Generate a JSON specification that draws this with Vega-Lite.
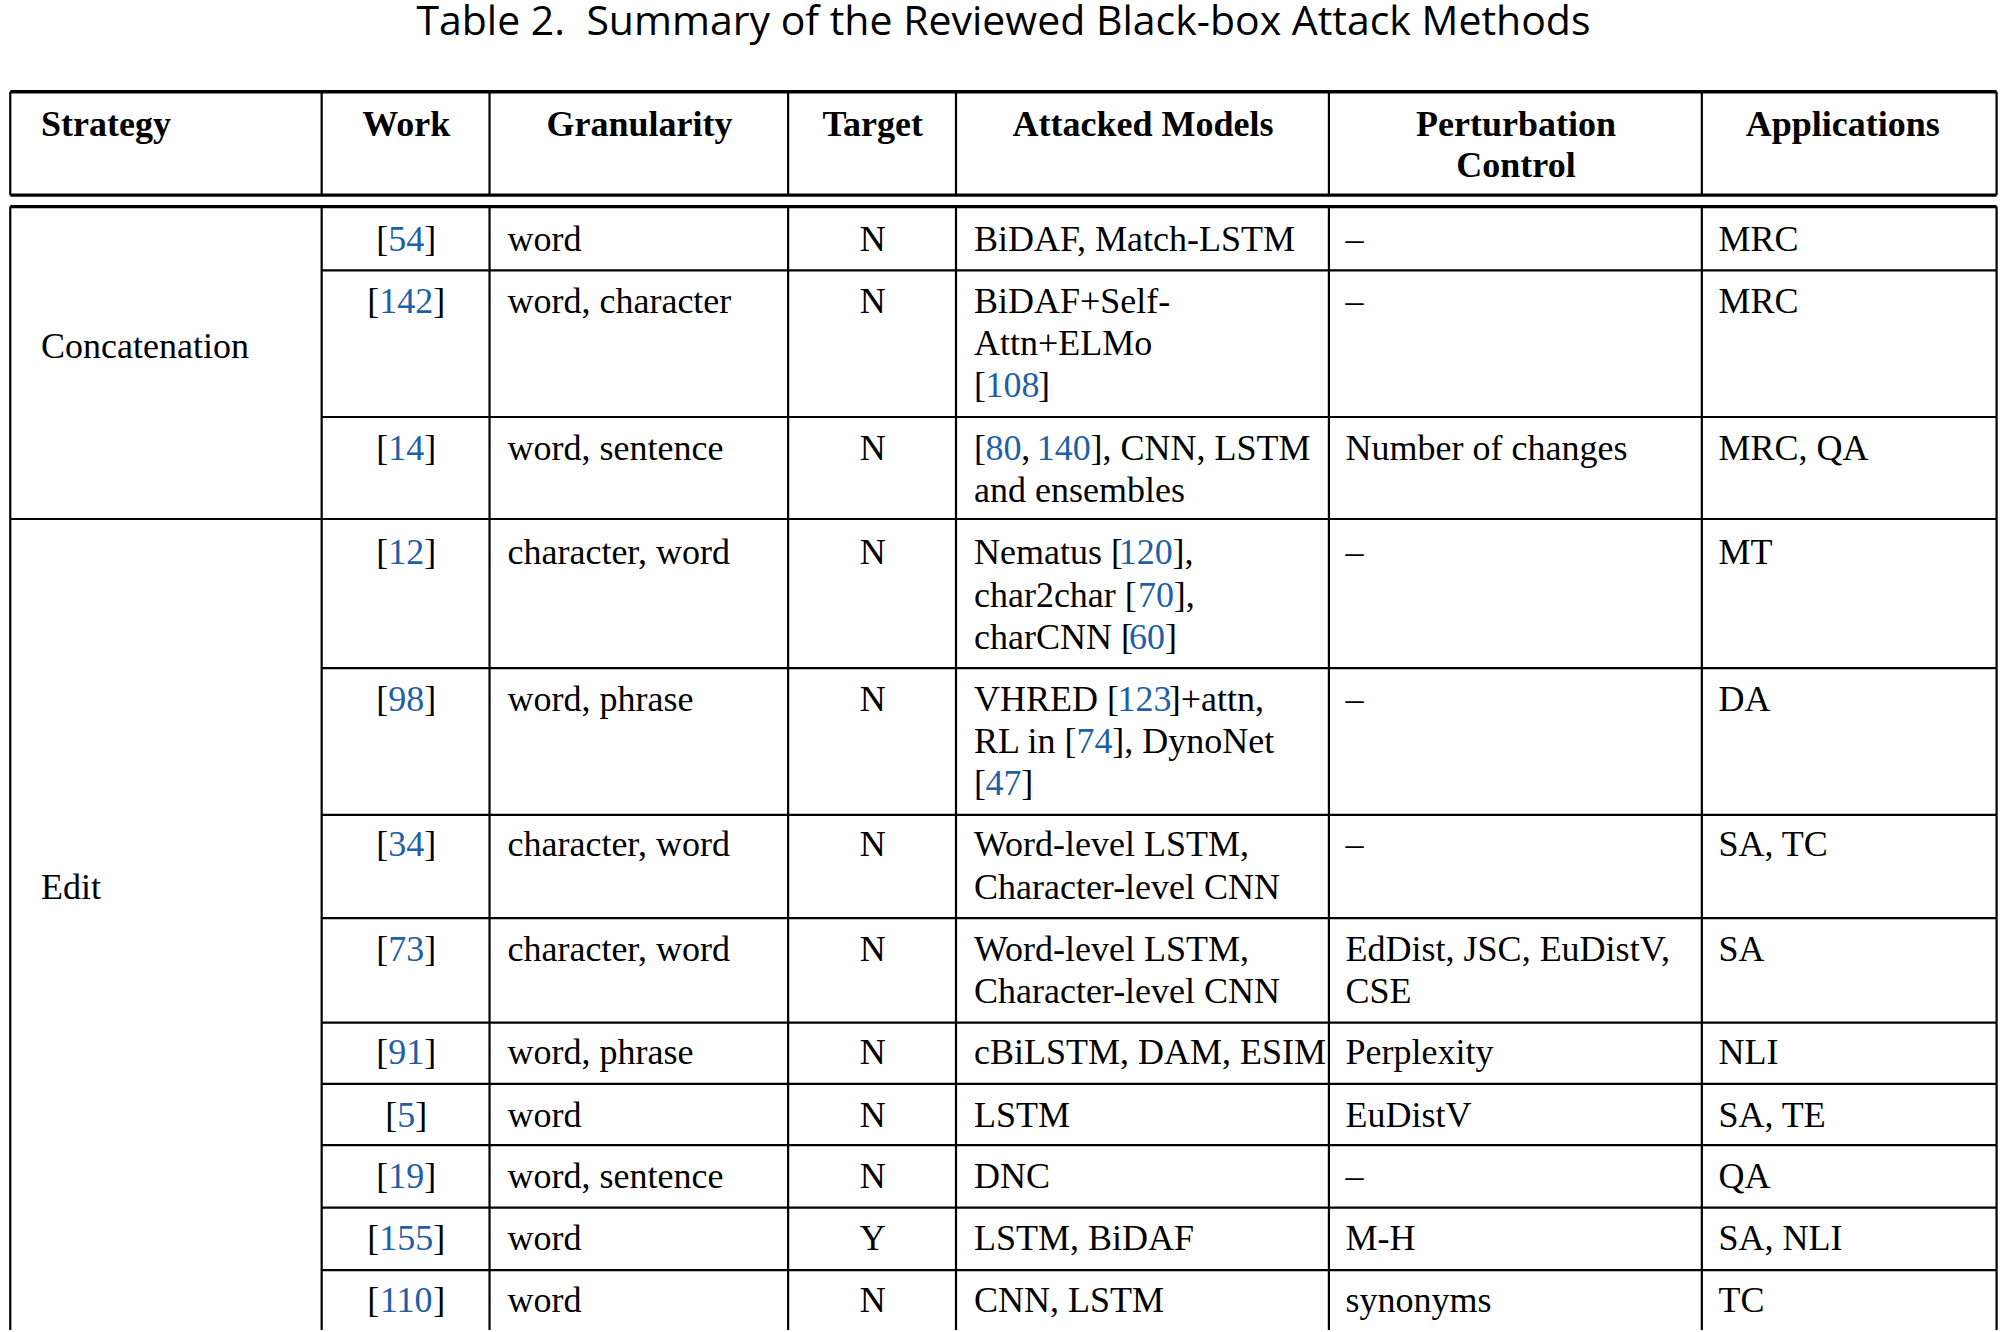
{
"$schema":"https://vega.github.io/schema/vega-lite/v6.json",
"width":2003,"height":1332,"autosize":{"type":"fit","contains":"padding"},"padding":0,
"background":"white","config":{"view":{"stroke":null}},
"datasets":{
"rules":[
{"x":8,"x2":1558,"y":72,"y2":72,"k":"thick"},
{"x":8,"x2":1558,"y":153,"y2":153,"k":"thick"},
{"x":8,"x2":1558,"y":162,"y2":162,"k":"thick"},
{"x":251,"x2":1558,"y":212,"y2":212,"k":"thin"},
{"x":251,"x2":1558,"y":327,"y2":327,"k":"thin"},
{"x":8,"x2":1558,"y":407,"y2":407,"k":"thin"},
{"x":251,"x2":1558,"y":524,"y2":524,"k":"thin"},
{"x":251,"x2":1558,"y":639,"y2":639,"k":"thin"},
{"x":251,"x2":1558,"y":720,"y2":720,"k":"thin"},
{"x":251,"x2":1558,"y":802,"y2":802,"k":"thin"},
{"x":251,"x2":1558,"y":850,"y2":850,"k":"thin"},
{"x":251,"x2":1558,"y":898,"y2":898,"k":"thin"},
{"x":251,"x2":1558,"y":947,"y2":947,"k":"thin"},
{"x":251,"x2":1558,"y":996,"y2":996,"k":"thin"},
{"x":8,"x2":8,"y":72,"y2":153,"k":"thin"},{"x":8,"x2":8,"y":162,"y2":1043,"k":"thin"},
{"x":251,"x2":251,"y":72,"y2":153,"k":"thin"},{"x":251,"x2":251,"y":162,"y2":1043,"k":"thin"},
{"x":382,"x2":382,"y":72,"y2":153,"k":"thin"},{"x":382,"x2":382,"y":162,"y2":1043,"k":"thin"},
{"x":615,"x2":615,"y":72,"y2":153,"k":"thin"},{"x":615,"x2":615,"y":162,"y2":1043,"k":"thin"},
{"x":746,"x2":746,"y":72,"y2":153,"k":"thin"},{"x":746,"x2":746,"y":162,"y2":1043,"k":"thin"},
{"x":1037,"x2":1037,"y":72,"y2":153,"k":"thin"},{"x":1037,"x2":1037,"y":162,"y2":1043,"k":"thin"},
{"x":1328,"x2":1328,"y":72,"y2":153,"k":"thin"},{"x":1328,"x2":1328,"y":162,"y2":1043,"k":"thin"},
{"x":1558,"x2":1558,"y":72,"y2":153,"k":"thin"},{"x":1558,"x2":1558,"y":162,"y2":1043,"k":"thin"}
],
"cells":[
{"x":783,"y":18,"t":"Table 2.\u00a0 Summary of the Reviewed Black-box Attack Methods","k":"T"},
{"x":32,"y":98,"t":"Strategy","k":"HL"},
{"x":317,"y":98,"t":"Work","k":"H"},
{"x":499,"y":98,"t":"Granularity","k":"H"},
{"x":681,"y":98,"t":"Target","k":"H"},
{"x":892,"y":98,"t":"Attacked Models","k":"H"},
{"x":1183,"y":98,"t":"Perturbation","k":"H"},
{"x":1183,"y":130,"t":"Control","k":"H"},
{"x":1438,"y":98,"t":"Applications","k":"H"},
{"x":32,"y":272,"t":"Concatenation","k":"L"},
{"x":32,"y":696,"t":"Edit","k":"L"},

{"x":317,"y":188,"t":"[\u2007\u2007]","k":"C"},{"x":317,"y":188,"t":"54","k":"BC"},
{"x":396,"y":188,"t":"word","k":"L"},{"x":681,"y":188,"t":"N","k":"C"},
{"x":760,"y":188,"t":"BiDAF, Match-LSTM","k":"L"},{"x":1050,"y":188,"t":"–","k":"L"},{"x":1341,"y":188,"t":"MRC","k":"L"},

{"x":317,"y":237,"t":"[\u2007\u2007\u2007]","k":"C"},{"x":317,"y":237,"t":"142","k":"BC"},
{"x":396,"y":237,"t":"word, character","k":"L"},{"x":681,"y":237,"t":"N","k":"C"},
{"x":760,"y":237,"t":"BiDAF+Self-","k":"L"},{"x":760,"y":270,"t":"Attn+ELMo","k":"L"},
{"x":760,"y":303,"t":"[","k":"L"},{"x":769,"y":303,"t":"108","k":"BL"},{"x":810,"y":303,"t":"]","k":"L"},
{"x":1050,"y":237,"t":"–","k":"L"},{"x":1341,"y":237,"t":"MRC","k":"L"},

{"x":317,"y":352,"t":"[\u2007\u2007]","k":"C"},{"x":317,"y":352,"t":"14","k":"BC"},
{"x":396,"y":352,"t":"word, sentence","k":"L"},{"x":681,"y":352,"t":"N","k":"C"},
{"x":760,"y":352,"t":"[","k":"L"},{"x":769,"y":352,"t":"80","k":"BL"},{"x":797,"y":352,"t":",","k":"L"},{"x":809,"y":352,"t":"140","k":"BL"},{"x":851,"y":352,"t":"], CNN, LSTM","k":"L"},
{"x":760,"y":385,"t":"and ensembles","k":"L"},
{"x":1050,"y":352,"t":"Number of changes","k":"L"},{"x":1341,"y":352,"t":"MRC, QA","k":"L"},

{"x":317,"y":434,"t":"[\u2007\u2007]","k":"C"},{"x":317,"y":434,"t":"12","k":"BC"},
{"x":396,"y":434,"t":"character, word","k":"L"},{"x":681,"y":434,"t":"N","k":"C"},
{"x":760,"y":434,"t":"Nematus [","k":"L"},{"x":873,"y":434,"t":"120","k":"BL"},{"x":915,"y":434,"t":"],","k":"L"},
{"x":760,"y":467,"t":"char2char [","k":"L"},{"x":888,"y":467,"t":"70","k":"BL"},{"x":916,"y":467,"t":"],","k":"L"},
{"x":760,"y":500,"t":"charCNN [","k":"L"},{"x":881,"y":500,"t":"60","k":"BL"},{"x":909,"y":500,"t":"]","k":"L"},
{"x":1050,"y":434,"t":"–","k":"L"},{"x":1341,"y":434,"t":"MT","k":"L"},

{"x":317,"y":549,"t":"[\u2007\u2007]","k":"C"},{"x":317,"y":549,"t":"98","k":"BC"},
{"x":396,"y":549,"t":"word, phrase","k":"L"},{"x":681,"y":549,"t":"N","k":"C"},
{"x":760,"y":549,"t":"VHRED [","k":"L"},{"x":872,"y":549,"t":"123","k":"BL"},{"x":912,"y":549,"t":"]+attn,","k":"L"},
{"x":760,"y":582,"t":"RL in [","k":"L"},{"x":840,"y":582,"t":"74","k":"BL"},{"x":868,"y":582,"t":"], DynoNet","k":"L"},
{"x":760,"y":615,"t":"[","k":"L"},{"x":769,"y":615,"t":"47","k":"BL"},{"x":797,"y":615,"t":"]","k":"L"},
{"x":1050,"y":549,"t":"–","k":"L"},{"x":1341,"y":549,"t":"DA","k":"L"},

{"x":317,"y":663,"t":"[\u2007\u2007]","k":"C"},{"x":317,"y":663,"t":"34","k":"BC"},
{"x":396,"y":663,"t":"character, word","k":"L"},{"x":681,"y":663,"t":"N","k":"C"},
{"x":760,"y":663,"t":"Word-level LSTM,","k":"L"},{"x":760,"y":696,"t":"Character-level CNN","k":"L"},
{"x":1050,"y":663,"t":"–","k":"L"},{"x":1341,"y":663,"t":"SA, TC","k":"L"},

{"x":317,"y":745,"t":"[\u2007\u2007]","k":"C"},{"x":317,"y":745,"t":"73","k":"BC"},
{"x":396,"y":745,"t":"character, word","k":"L"},{"x":681,"y":745,"t":"N","k":"C"},
{"x":760,"y":745,"t":"Word-level LSTM,","k":"L"},{"x":760,"y":778,"t":"Character-level CNN","k":"L"},
{"x":1050,"y":745,"t":"EdDist, JSC, EuDistV,","k":"L"},{"x":1050,"y":778,"t":"CSE","k":"L"},{"x":1341,"y":745,"t":"SA","k":"L"},

{"x":317,"y":826,"t":"[\u2007\u2007]","k":"C"},{"x":317,"y":826,"t":"91","k":"BC"},
{"x":396,"y":826,"t":"word, phrase","k":"L"},{"x":681,"y":826,"t":"N","k":"C"},
{"x":760,"y":826,"t":"cBiLSTM, DAM, ESIM","k":"L"},{"x":1050,"y":826,"t":"Perplexity","k":"L"},{"x":1341,"y":826,"t":"NLI","k":"L"},

{"x":317,"y":875,"t":"[\u2007]","k":"C"},{"x":317,"y":875,"t":"5","k":"BC"},
{"x":396,"y":875,"t":"word","k":"L"},{"x":681,"y":875,"t":"N","k":"C"},
{"x":760,"y":875,"t":"LSTM","k":"L"},{"x":1050,"y":875,"t":"EuDistV","k":"L"},{"x":1341,"y":875,"t":"SA, TE","k":"L"},

{"x":317,"y":923,"t":"[\u2007\u2007]","k":"C"},{"x":317,"y":923,"t":"19","k":"BC"},
{"x":396,"y":923,"t":"word, sentence","k":"L"},{"x":681,"y":923,"t":"N","k":"C"},
{"x":760,"y":923,"t":"DNC","k":"L"},{"x":1050,"y":923,"t":"–","k":"L"},{"x":1341,"y":923,"t":"QA","k":"L"},

{"x":317,"y":972,"t":"[\u2007\u2007\u2007]","k":"C"},{"x":317,"y":972,"t":"155","k":"BC"},
{"x":396,"y":972,"t":"word","k":"L"},{"x":681,"y":972,"t":"Y","k":"C"},
{"x":760,"y":972,"t":"LSTM, BiDAF","k":"L"},{"x":1050,"y":972,"t":"M-H","k":"L"},{"x":1341,"y":972,"t":"SA, NLI","k":"L"},

{"x":317,"y":1020,"t":"[\u2007\u2007\u2007]","k":"C"},{"x":317,"y":1020,"t":"110","k":"BC"},
{"x":396,"y":1020,"t":"word","k":"L"},{"x":681,"y":1020,"t":"N","k":"C"},
{"x":760,"y":1020,"t":"CNN, LSTM","k":"L"},{"x":1050,"y":1020,"t":"synonyms","k":"L"},{"x":1341,"y":1020,"t":"TC","k":"L"}
]},
"encoding":{
"x":{"field":"x","type":"quantitative","scale":{"domain":[0,1563],"nice":false,"zero":false},"axis":null},
"y":{"field":"y","type":"quantitative","scale":{"domain":[0,1043],"nice":false,"zero":false,"reverse":true},"axis":null}
},
"layer":[
{"data":{"name":"rules"},"transform":[{"filter":"datum.k=='thin'"}],"mark":{"type":"rule","color":"black","strokeWidth":2.2},"encoding":{"x2":{"field":"x2"},"y2":{"field":"y2"}}},
{"data":{"name":"rules"},"transform":[{"filter":"datum.k=='thick'"}],"mark":{"type":"rule","color":"black","strokeWidth":3.4},"encoding":{"x2":{"field":"x2"},"y2":{"field":"y2"}}},
{"data":{"name":"cells"},"transform":[{"filter":"datum.k=='L'"}],"mark":{"type":"text","align":"left","baseline":"middle","font":"Liberation Serif","fontSize":36,"color":"black"},"encoding":{"text":{"field":"t"}}},
{"data":{"name":"cells"},"transform":[{"filter":"datum.k=='C'"}],"mark":{"type":"text","align":"center","baseline":"middle","font":"Liberation Serif","fontSize":36,"color":"black"},"encoding":{"text":{"field":"t"}}},
{"data":{"name":"cells"},"transform":[{"filter":"datum.k=='BL'"}],"mark":{"type":"text","align":"left","baseline":"middle","font":"Liberation Serif","fontSize":36,"color":"#1f5fa6"},"encoding":{"text":{"field":"t"}}},
{"data":{"name":"cells"},"transform":[{"filter":"datum.k=='BC'"}],"mark":{"type":"text","align":"center","baseline":"middle","font":"Liberation Serif","fontSize":36,"color":"#1f5fa6"},"encoding":{"text":{"field":"t"}}},
{"data":{"name":"cells"},"transform":[{"filter":"datum.k=='H'"}],"mark":{"type":"text","align":"center","baseline":"middle","font":"Liberation Serif","fontSize":36,"fontWeight":"bold","color":"black"},"encoding":{"text":{"field":"t"}}},
{"data":{"name":"cells"},"transform":[{"filter":"datum.k=='HL'"}],"mark":{"type":"text","align":"left","baseline":"middle","font":"Liberation Serif","fontSize":36,"fontWeight":"bold","color":"black"},"encoding":{"text":{"field":"t"}}},
{"data":{"name":"cells"},"transform":[{"filter":"datum.k=='T'"}],"mark":{"type":"text","align":"center","baseline":"middle","font":"Open Sans","fontSize":41,"color":"black"},"encoding":{"text":{"field":"t"}}}
]}
